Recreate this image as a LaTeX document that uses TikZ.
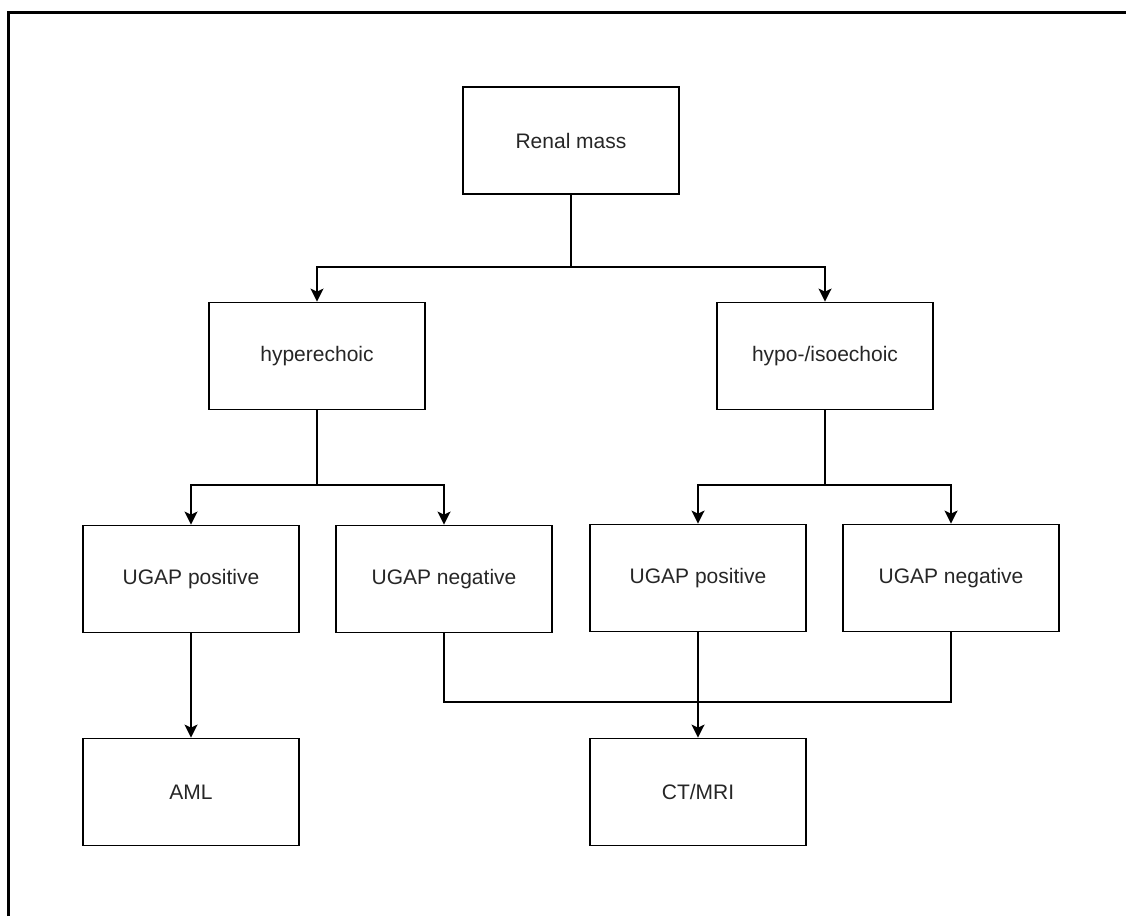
\documentclass[tikz,border=0pt]{standalone}
\usepackage{fontspec}
\setmainfont{Liberation Sans}
\usetikzlibrary{arrows.meta}
\begin{document}
\begin{tikzpicture}[x=1pt,y=-1pt,
  box/.style={draw=black,line width=1.8pt,minimum width=216pt,minimum height=107pt,inner sep=0pt,font=\fontsize{21}{25}\selectfont,text=black!85},
  link/.style={draw=black,line width=1.8pt},
  arr/.style={link,-{Stealth[width=13pt,length=13pt,inset=3pt]}}]
\useasboundingbox (0,0) rectangle (1126,916);
\draw[line width=3pt] (8,916) -- (8,12) -- (1126,12);
\node[box] (rm) at (571,140.5) {Renal mass};
\node[box] (hyper) at (317,356) {hyperechoic};
\node[box] (hypo) at (825,356) {hypo-/isoechoic};
\node[box] (p1) at (191,579) {UGAP positive};
\node[box] (n1) at (444,579) {UGAP negative};
\node[box] (p2) at (698,578) {UGAP positive};
\node[box] (n2) at (951,578) {UGAP negative};
\node[box] (aml) at (191,792) {AML};
\node[box] (ct) at (698,792) {CT/MRI};
\coordinate (j1) at (571,267);
\coordinate (j2) at (317,485);
\coordinate (j3) at (825,485);
\coordinate (j4) at (698,702);
\draw[link] (rm.south) -- (j1);
\draw[arr] (j1) -| (hyper.north);
\draw[arr] (j1) -| (hypo.north);
\draw[link] (hyper.south) -- (j2);
\draw[arr] (j2) -| (p1.north);
\draw[arr] (j2) -| (n1.north);
\draw[link] (hypo.south) -- (j3);
\draw[arr] (j3) -| (p2.north);
\draw[arr] (j3) -| (n2.north);
\draw[arr] (p1.south) -- (aml.north);
\draw[link] (n1.south) |- (j4) -| (n2.south);
\draw[arr] (p2.south) -- (ct.north);
\end{tikzpicture}
\end{document}
